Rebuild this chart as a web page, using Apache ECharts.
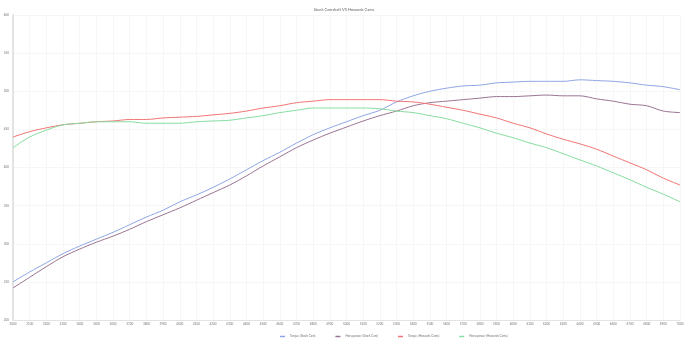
<!DOCTYPE html>
<html><head><meta charset="utf-8">
<script src="https://cdn.jsdelivr.net/npm/echarts@6/dist/echarts.min.js"></script>
<style>html,body{margin:0;padding:0;background:#fff}#c{width:688px;height:352px}</style>
</head><body><div id="c"></div>
<script>
const titleText = 'Stock Camshaft VS Howards Cams';
const rpm = [];
for (let r = 3000; r <= 7000; r += 100) rpm.push(String(r));
const torqueStock = [250,263,275,287,297,306,315,325,335,344,355,364,374,385,397,409,420,432,443,452,460,468,475,486,494,500,504,507,508,511,512,513,513,513,515,514,513,511,508,506,502];
const hpStock = [242,256,270,283,293,302,310,319,329,338,347,357,367,377,389,402,414,426,436,445,453,461,468,474,481,485,487,489,491,493,493,494,495,494,494,490,487,483,481,474,472];
const torqueHowards = [440,447,452,456,458,460,461,463,463,465,466,467,469,471,474,478,481,485,487,489,489,489,489,487,486,483,479,475,470,465,458,452,444,437,431,424,415,406,397,386,377];
const hpHowards = [426,440,449,456,458,460,460,460,458,458,458,460,461,462,465,468,472,475,478,478,478,478,477,474,472,468,464,458,452,445,439,432,426,418,410,402,393,384,374,365,355];
const seriesNames = ['Torque (Stock Cam)','Horsepower (Stock Cam)','Torque (Howards Cams)','Horsepower (Howards Cams)'];
const colors = ['#8fa6e6','#9a7492','#f27474','#86dca0'];
const yTicks = {min:200, max:600, step:50};

const chart = echarts.init(document.getElementById('c'), null, {renderer:'canvas'});
const dataSets = [torqueStock, hpStock, torqueHowards, hpHowards];
chart.setOption({
  animation:false,
  backgroundColor:'#fff',
  title:{text:titleText, left:'center', top:3, textStyle:{fontSize:4, fontWeight:'normal', color:'#666', fontFamily:'Lato'}},
  legend:{top:335, left:280, itemWidth:5, itemHeight:1.5, itemGap:20, icon:'rect', padding:0,
    textStyle:{fontSize:3, color:'#777', fontFamily:'Lato'}, data:seriesNames},
  grid:{left:13, right:8, top:15, bottom:32, containLabel:false},
  xAxis:{type:'category', data:rpm, boundaryGap:false,
    axisLine:{lineStyle:{color:'#e3e3e3', width:1}}, axisTick:{show:false},
    axisLabel:{interval:0, fontSize:3, color:'#777', margin:3, fontFamily:'Lato'},
    splitLine:{show:true, lineStyle:{color:'#f6f6f6', width:1}}},
  yAxis:{type:'value', min:yTicks.min, max:yTicks.max, interval:yTicks.step,
    axisLine:{show:true, lineStyle:{color:'#e3e3e3', width:2}}, axisTick:{show:false},
    axisLabel:{fontSize:3, color:'#777', margin:4, fontFamily:'Lato'},
    splitLine:{show:true, lineStyle:{color:'#f6f6f6', width:1}}},
  series: dataSets.map((d,i)=>({name:seriesNames[i], type:'line', data:d, smooth:0.3, showSymbol:false,
    lineStyle:{width:1, color:colors[i]}, itemStyle:{color:colors[i]}}))
});
</script></body></html>
